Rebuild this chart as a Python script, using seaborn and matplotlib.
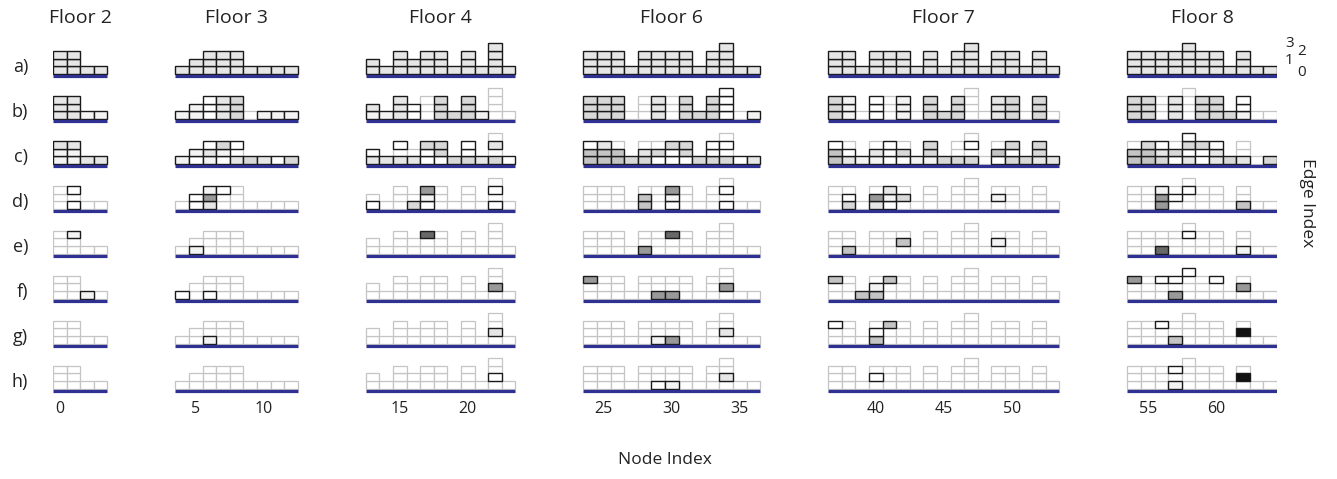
"""
Edge usage per node, floors 2-8, eight cases a) - h)
"""
import numpy as np
import matplotlib.pyplot as plt
import seaborn as sns

floor_names = ['Floor 2', 'Floor 3', 'Floor 4', 'Floor 6', 'Floor 7', 'Floor 8']
floor_sizes = [4, 9, 11, 13, 17, 11]
node_heights = [3, 3, 1, 1,
                1, 2, 3, 3, 3, 1, 1, 1, 1,
                2, 1, 3, 2, 3, 3, 1, 3, 1, 4, 1,
                3, 3, 3, 1, 3, 3, 3, 3, 1, 3, 4, 1, 1,
                3, 3, 1, 3, 3, 3, 1, 3, 1, 3, 4, 1, 3, 3, 1, 3, 1,
                3, 3, 3, 3, 4, 3, 3, 1, 3, 1, 1]
row_labels = ['a)', 'b)', 'c)', 'd)', 'e)', 'f)', 'g)', 'h)']
node_ticks = [0, 5, 10, 15, 20, 25, 30, 35, 40, 45, 50, 55, 60]

# one token per node, edges listed bottom -> top, '|' separates floors
# '.' = edge not used, letter = used edge with its shade
row_a = """ggg ggg g g | g gg ggg ggg ggg g g g g |
gg g ggg gg ggg ggg g ggg g gggg g |
ggg ggg ggg g ggg ggg ggg ggg g ggg gggg g g |
ggg ggg g ggg ggg ggg g ggg g ggg gggg g ggg ggg g ggg g |
ggg ggg ggg ggg gggg ggg ggg g ggg g g"""
row_b = """ggg ggg l l | l ll www ggg mmm . l l l |
lg l ggg ww ... mmm m mmm l .... . |
mmm mmm mmm . ... ggg ... mmm m mmm wwww . l |
mmm lll . www ... lll . mmm m mmm .... . ggg mmm . mmm . |
mmm mmm ... ggg .... mmm mmm m lww . ."""
row_c = """llg llg g g | l wl lgw wlm g.w m g w m |
gw g g.w g. wwm wmm m mww g m.g. w |
ssw ssg ss. m mg. wm. wwm wmm m mww m.w. w g |
ssw gw. l lg. www wm. l lmm m m.. m.w. . ws. mwm m gmm g |
ss. ssm mgw wm. gwmw w.m ggw m g.. . m"""
row_d = """... w.w . . | . ww gdl ..w ... . . . . |
w. . ... m. wld ... . ... . w.w. . |
... ... ... . ss. ... wld ... . ... w.w. . . |
... mw. . gd. wlg .m. . ... . ... .... . .l. ... . ... . |
... ... ddl .w. ..w. ... ... . s.. . ."""
row_e = """... ..l . . | . l. ... ... ... . . . . |
.. . ... .. ..e ... . ... . .... . |
... ... ... . d.. ... ..e ... . ... .... . . |
... s.. . ... ... .s. . ... . ... .... . .l. ... . ... . |
... ... e.. ... ..w. ... ... . l.. . ."""
row_f = """... ... l . | w .. w.. ... ... . . . . |
.. . ... .. ... ... . ... . .d.. . |
..d ... ... . ... d.. d.. ... . ... .d.. . . |
..s ... s sl. ..s ... . ... . ... .... . ... ... . ... . |
..d ... ..w d.w ...w ... ..w . .d. . ."""
row_g = """... ... . . | . .. l.. ... ... . . . . |
.. . ... .. ... ... . ... . .g.. . |
... ... ... . ... l.. d.. ... . ... .g.. . . |
..w ... . sw. ..s ... . ... . ... .... . ... ... . ... . |
... ... ..w s.. .... ... ... . .k. . ."""
row_h = """... ... . . | . .. ... ... ... . . . . |
.. . ... .. ... ... . ... . .w.. . |
... ... ... . ... w.. l.. ... . ... .g.. . . |
... ... . .w. ... ... . ... . ... .... . ... ... . ... . |
... ... ... l.w .... ... ... . .k. . ."""
rows = [row_a, row_b, row_c, row_d, row_e, row_f, row_g, row_h]

shade = {'w': '#ffffff', 'l': '#f3f3f3', 'g': '#e6e6e6', 'm': '#d8d8d8',
         's': '#c4c4c4', 'd': '#999999', 'e': '#686868', 'k': '#111111'}

# node -> x position (5 empty slots between floors)
floor_of = np.repeat(np.arange(len(floor_sizes)), floor_sizes)
node_x = np.arange(len(node_heights)) + 5 * floor_of
floor_start = [node_x[sum(floor_sizes[:f])] for f in range(len(floor_sizes))]

PITCH = 45 / 7.75        # row spacing in cell units
row_base = [(7 - r) * PITCH for r in range(len(rows))]

sns.set_theme(style='white')
plt.rcParams['font.family'] = ['Open Sans', 'DejaVu Sans']

W, H = 1337, 479
fig = plt.figure(figsize=(W / 100, H / 100), dpi=100)
ymin, ymax = -0.7, 7 * PITCH + 4.3
ax = fig.add_axes([53 / W, 1 - 394.4 / H, (1277 - 53) / W, (394.4 - 40.7) / H])

off_x, off_y = [], []
on_x, on_y, on_c = [], [], []
for r, txt in enumerate(rows):
    tokens = txt.replace('|', ' ').split()
    assert len(tokens) == len(node_heights), (r, len(tokens))
    for n, tok in enumerate(tokens):
        assert len(tok) == node_heights[n], (r, n, tok)
        for e, ch in enumerate(tok):
            if ch == '.':
                off_x.append(node_x[n]); off_y.append(row_base[r] + e)
            else:
                on_x.append(node_x[n]); on_y.append(row_base[r] + e)
                on_c.append(shade[ch])

ax.bar(off_x, 1, bottom=off_y, width=1, align='edge', color='white',
       edgecolor='#c4c4c4', linewidth=0.9, zorder=1)
ax.bar(on_x, 1, bottom=on_y, width=1, align='edge', color=on_c,
       edgecolor='#1a1a1a', linewidth=1.0, zorder=2)

# blue base line under every floor block
for b in row_base:
    for f in range(len(floor_sizes)):
        x0 = floor_start[f]
        ax.plot([x0, x0 + floor_sizes[f]], [b - 0.25, b - 0.25], color='#2e3192',
                lw=2.3, solid_capstyle='butt', zorder=3)

# floor titles
for f, name in enumerate(floor_names):
    ax.text(floor_start[f] + floor_sizes[f] / 2, row_base[0] + (74 - 18) / 7.75, name,
            ha='center', va='center', fontsize=14, color='#222222', clip_on=False)

# edge index key
key = [('3', 90.9, 4.0), ('2', 91.8, 2.85), ('1', 90.9, 1.7), ('0', 91.8, 0.15)]
for s, kx, ky in key:
    ax.text(kx, row_base[0] + ky, s, ha='center', va='center', fontsize=11,
            color='#222222', clip_on=False)

ax.set_xlim(0, 90)
ax.set_ylim(ymin, ymax)
ax.set_xticks([node_x[n] + 0.5 for n in node_ticks])
ax.set_xticklabels([str(n) for n in node_ticks])
ax.set_yticks([b + 1.2 for b in row_base])
ax.set_yticklabels(row_labels)
ax.tick_params(axis='x', length=0, pad=5, labelsize=11.5, labelcolor='#222222')
ax.tick_params(axis='y', length=0, pad=18, labelsize=13, labelcolor='#222222')
ax.set_xlabel('Node Index', fontsize=12.5, labelpad=25, color='#222222')
for sp in ax.spines.values():
    sp.set_visible(False)

fig.text(1307 / W, 1 - 203 / H, 'Edge Index', rotation=270, ha='center', va='center',
         fontsize=12.5, color='#222222')

plt.savefig('out.png', dpi=100)
plt.close()
